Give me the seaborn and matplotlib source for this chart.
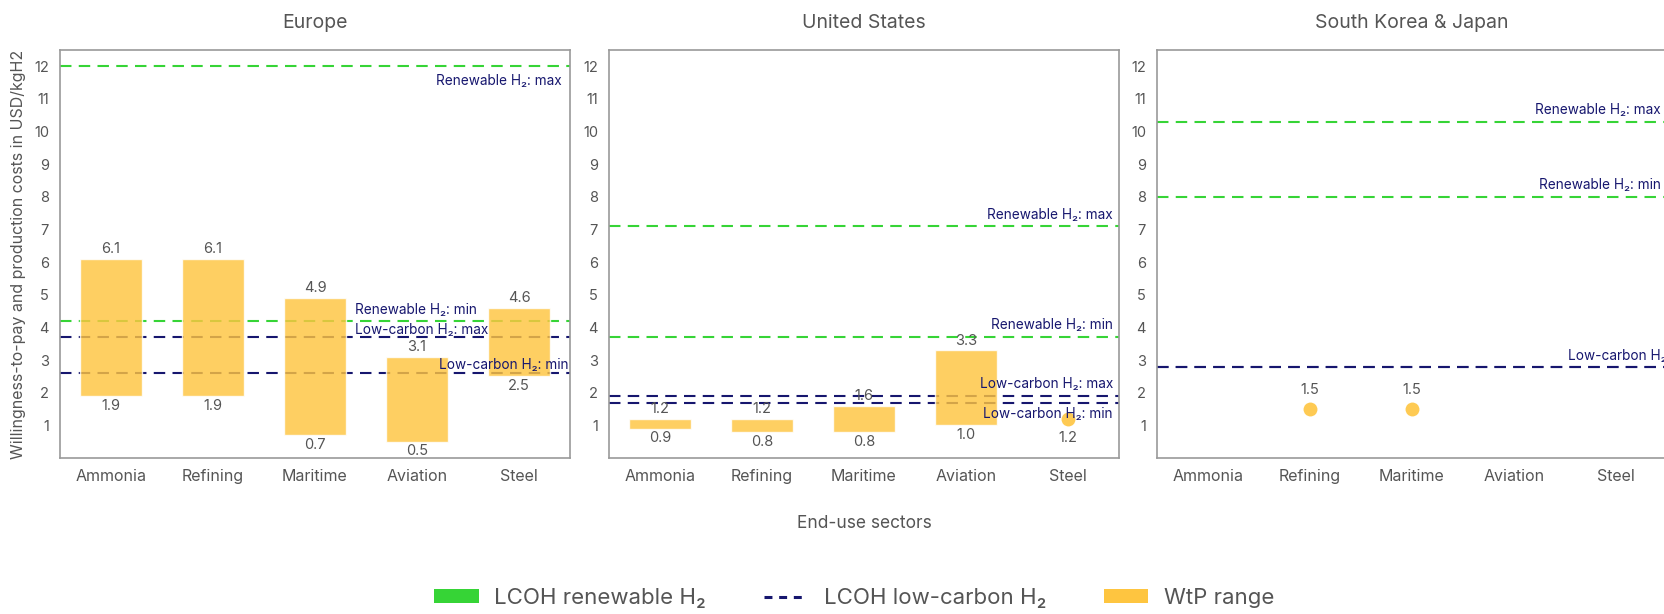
import numpy as np
import pandas as pd
import seaborn as sns
import matplotlib.pyplot as plt
from matplotlib.patches import Patch
from matplotlib.lines import Line2D

sectors = ["Ammonia", "Refining", "Maritime", "Aviation", "Steel"]
regions = ["Europe", "United States", "South Korea & Japan"]

# willingness-to-pay ranges (USD/kgH2)
eu_sectors = ["Ammonia", "Refining", "Maritime", "Aviation", "Steel"]
eu_low = [1.9, 1.9, 0.7, 0.5, 2.5]
eu_high = [6.1, 6.1, 4.9, 3.1, 4.6]

us_sectors = ["Ammonia", "Refining", "Maritime", "Aviation"]
us_low = [0.9, 0.8, 0.8, 1.0]
us_high = [1.2, 1.2, 1.6, 3.3]
us_point_sectors = ["Steel"]
us_point = [1.2]

kj_sectors = []
kj_low = []
kj_high = []
kj_point_sectors = ["Refining", "Maritime"]
kj_point = [1.5, 1.5]

# levelised cost of hydrogen per region
renew_max = [12.0, 7.1, 10.3]
renew_min = [4.2, 3.7, 8.0]
lowc_max = [3.7, 1.9, 2.8]
lowc_min = [2.6, 1.7, 2.8]

GREEN = "#36d436"
NAVY = "#16166e"
BAR = "#fec540"
GREY = "#555555"

# where the line labels sit (x in sector units, y in value units, alignment)
line_labels = [
    [("Renewable H₂: max", 4.42, 11.55, "right"),
     ("Renewable H₂: min", 2.39, 4.52, "left"),
     ("Low-carbon H₂: max", 2.39, 3.92, "left"),
     ("Low-carbon H₂: min", 3.22, 2.85, "left")],
    [("Renewable H₂: max", 4.44, 7.43, "right"),
     ("Renewable H₂: min", 4.44, 4.09, "right"),
     ("Low-carbon H₂: max", 4.44, 2.28, "right"),
     ("Low-carbon H₂: min", 4.44, 1.36, "right")],
    [("Renewable H₂: max", 4.44, 10.65, "right"),
     ("Renewable H₂: min", 4.44, 8.35, "right"),
     ("Low-carbon H₂: min", 3.53, 3.12, "left")],
]

bars = [(eu_sectors, eu_low, eu_high), (us_sectors, us_low, us_high), (kj_sectors, kj_low, kj_high)]
points = [([], []), (us_point_sectors, us_point), (kj_point_sectors, kj_point)]
point_label_below = [False, True, False]

sns.set_style("white")
plt.rcParams["font.family"] = ["Inter", "DejaVu Sans"]

fig = plt.figure(figsize=(16.65, 6.14), dpi=100)
lefts = [60 / 1665, 609 / 1665, 1157 / 1665]
axes = [fig.add_axes([l, 1 - 458 / 614, 510 / 1665, 408 / 614]) for l in lefts]

dash = (0, (5.5, 3.5))
for i, ax in enumerate(axes):
    ax.axhline(renew_max[i], color=GREEN, lw=1.5, ls=dash, zorder=2)
    ax.axhline(renew_min[i], color=GREEN, lw=1.5, ls=dash, zorder=2)
    ax.axhline(lowc_max[i], color=NAVY, lw=1.5, ls=dash, zorder=2)
    ax.axhline(lowc_min[i], color=NAVY, lw=1.5, ls=dash, zorder=2)

    cats, lo, hi = bars[i]
    if cats:
        df = pd.DataFrame({"sector": cats, "low": lo, "span": np.subtract(hi, lo)})
        sns.barplot(data=df, x="sector", y="span", order=sectors, bottom=df["low"].to_numpy(),
                    color=BAR, alpha=0.82, saturation=1, width=0.6, errorbar=None,
                    ax=ax, zorder=3)
        for c, l, h in zip(cats, lo, hi):
            xi = sectors.index(c)
            ax.annotate(f"{h:.1f}", (xi, h), xytext=(0, 2), textcoords="offset points",
                        ha="center", va="bottom", fontsize=10.5, color=GREY, zorder=5)
            ax.annotate(f"{l:.1f}", (xi, l), xytext=(0, -2), textcoords="offset points",
                        ha="center", va="top", fontsize=10.5, color=GREY, zorder=5)

    pc, pv = points[i]
    if pc:
        dp = pd.DataFrame({"sector": pc, "value": pv})
        sns.stripplot(data=dp, x="sector", y="value", order=sectors, jitter=False,
                      color=BAR, size=10, alpha=0.9, linewidth=0, ax=ax, zorder=4)
        for c, v in zip(pc, pv):
            xi = sectors.index(c)
            if point_label_below[i]:
                ax.annotate(f"{v:.1f}", (xi, v), xytext=(0, -9), textcoords="offset points",
                            ha="center", va="top", fontsize=10.5, color=GREY, zorder=5)
            else:
                ax.annotate(f"{v:.1f}", (xi, v), xytext=(0, 9), textcoords="offset points",
                            ha="center", va="bottom", fontsize=10.5, color=GREY, zorder=5)

    for txt, x, y, ha in line_labels[i]:
        ax.text(x, y, txt, ha=ha, va="center", fontsize=9.8, color=NAVY, zorder=6, clip_on=False)

    ax.set_xlim(-0.5, 4.5)
    ax.set_ylim(0, 12.5)
    ax.set_xticks(range(len(sectors)))
    ax.set_xticklabels(sectors)
    ax.set_yticks(range(1, 13))
    ax.tick_params(axis="both", direction="out", length=4, width=1, color="#8a8a8a",
                   labelcolor=GREY, pad=4)
    ax.tick_params(axis="x", labelsize=11.5)
    ax.tick_params(axis="y", labelsize=10.5)
    for sp in ax.spines.values():
        sp.set_color("#9a9a9a")
        sp.set_linewidth(1.2)
    ax.set_title(regions[i], fontsize=14, color=GREY, pad=16)
    ax.set_xlabel("")
    ax.set_ylabel("")

axes[0].set_ylabel("Willingness-to-pay and production costs in USD/kgH2", fontsize=11.5,
                   color=GREY, labelpad=6)
axes[1].set_xlabel("End-use sectors", fontsize=12.5, color=GREY, labelpad=22)

handles = [Patch(facecolor=GREEN, edgecolor="none"),
           Line2D([0], [0], color=NAVY, lw=2.2, ls=(0, (2.6, 2.2))),
           Patch(facecolor=BAR, edgecolor="none")]
labels = ["LCOH renewable H₂", "LCOH low-carbon H₂", "WtP range"]
leg = fig.legend(handles, labels, loc="center", bbox_to_anchor=(0.513, 1 - 598 / 614),
                 ncol=3, frameon=False, fontsize=16, handlelength=2.0, handleheight=0.6,
                 columnspacing=2.6, handletextpad=0.7)
for t in leg.get_texts():
    t.set_color(GREY)

fig.savefig("out.png", dpi=100)
